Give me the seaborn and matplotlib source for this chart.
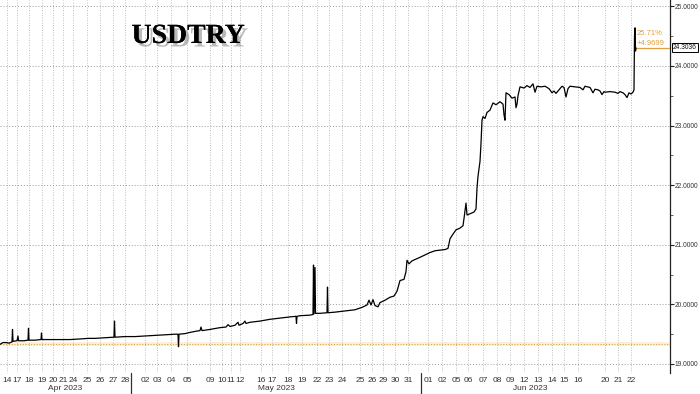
import matplotlib
matplotlib.use("Agg")
import matplotlib.pyplot as plt
import matplotlib.transforms as mtransforms
import matplotlib.patheffects as pe
import numpy as np
import pandas as pd
import seaborn as sns

# ---------------- data ----------------
# session position along the (gap-compressed) time axis, and USDTRY level
t = [0, 3, 6, 9, 12, 12.5, 13, 17, 18, 18.5, 24, 28, 28.5, 29, 35, 41, 41.5, 42,
     50, 60, 70, 80, 88, 95, 105, 114, 114.5, 115, 125, 135, 145, 155, 165, 175,
     178, 178.5, 179, 185, 190, 196, 200, 201, 202, 210, 220, 226, 228, 230, 235,
     238, 239, 243, 245, 246, 250, 260, 270, 280, 290, 296, 296.5, 297, 300, 310,
     313, 313.5, 314, 315, 315.5, 320, 327, 327.5, 328, 335, 345, 355, 362, 367,
     369, 371, 373, 375, 378, 380, 385, 390, 394, 397, 400, 404, 406, 407, 409,
     412, 416, 420, 425, 430, 435, 440, 445, 448, 450, 453, 456, 460, 463, 464,
     466, 467, 470, 474, 476, 477, 478, 480, 481, 482, 483, 485, 487, 490, 493,
     496, 500, 503, 504, 505, 506, 509, 512, 515, 516, 517, 518, 520, 524, 527,
     530, 533, 535, 537, 541, 545, 549, 552, 554, 556, 559, 562, 564, 566, 568,
     570, 575, 580, 583, 585, 590, 593, 595, 598, 600, 602, 604, 605, 610, 615,
     618, 620, 623, 625, 627, 629, 631, 633, 634, 634.5, 635, 635.5, 636]
usdtry = [19.33, 19.36, 19.36, 19.35, 19.37, 19.58, 19.38, 19.39, 19.47, 19.39,
          19.39, 19.40, 19.60, 19.40, 19.40, 19.41, 19.52, 19.41,
          19.41, 19.41, 19.41, 19.42, 19.43, 19.43, 19.44, 19.45, 19.72, 19.45,
          19.46, 19.46, 19.47, 19.48, 19.49, 19.50,
          19.50, 19.29, 19.50, 19.51, 19.53, 19.55, 19.56, 19.62, 19.56, 19.58,
          19.61, 19.62, 19.66, 19.63, 19.65,
          19.70, 19.65, 19.68, 19.72, 19.68, 19.70, 19.72, 19.75, 19.77, 19.79,
          19.80, 19.68, 19.80, 19.81, 19.82,
          19.83, 20.66, 19.84, 20.62, 19.85, 19.85, 19.86, 20.29, 19.86, 19.87,
          19.89, 19.91, 19.95, 19.99,
          20.07, 19.99, 20.08, 19.98, 19.96, 20.03, 20.07, 20.12, 20.14, 20.22,
          20.40, 20.42, 20.55, 20.74, 20.68,
          20.73, 20.76, 20.79, 20.83, 20.87, 20.90, 20.91, 20.92, 20.94, 21.10,
          21.18, 21.25, 21.28, 21.32, 21.44,
          21.70, 21.50, 21.52, 21.55, 21.60, 21.95, 22.15, 22.40, 22.70, 23.09,
          23.15, 23.12, 23.22, 23.26, 23.38,
          23.35, 23.40, 23.36, 23.18, 23.09, 23.55, 23.52, 23.46, 23.48, 23.30,
          23.36, 23.50, 23.65, 23.63, 23.67,
          23.64, 23.70, 23.56, 23.66, 23.65, 23.66, 23.62, 23.55, 23.58, 23.54,
          23.60, 23.66, 23.64, 23.48, 23.62,
          23.66, 23.65, 23.64, 23.60, 23.66, 23.64, 23.55, 23.61, 23.60, 23.58,
          23.52, 23.57, 23.56, 23.57, 23.56,
          23.54, 23.57, 23.55, 23.52, 23.47, 23.55, 23.53, 23.56, 23.60, 24.50,
          24.64, 24.25, 24.3036]

tick_pos = [7, 17, 29, 42, 53, 63, 73, 87, 100, 113, 125,
            145, 157, 171, 187, 210, 222, 231, 240, 261, 272, 288, 302, 317,
            329, 342, 360, 372, 383, 395, 408,
            428, 442, 456, 468, 483, 497, 510, 524, 538, 552, 564, 578, 605,
            618, 631]
tick_labels = ["14", "17", "18", "19", "20", "21", "24", "25", "26", "27", "28",
               "02", "03", "04", "05", "09", "10", "11", "12", "16", "17", "18",
               "19", "22", "23", "24", "25", "26", "29", "30", "31",
               "01", "02", "05", "06", "07", "08", "09", "12", "13", "14", "15",
               "16", "20", "21", "22"]
months = ["Apr 2023", "May 2023", "Jun 2023"]
month_centers = [65, 276, 530]
month_breaks = [131, 421]

y_ticks = [19, 20, 21, 22, 23, 24, 25]
start_level = 19.3337
last_level = 24.3036
pct_change = "25.71%"
abs_change = "+4.9699"

# ---------------- plotting ----------------
sns.set_theme(style="white")
plt.rcParams["font.family"] = ["Liberation Sans", "DejaVu Sans"]

fig = plt.figure(figsize=(7.0, 3.94), dpi=100)
ax = fig.add_axes([0, 1 - 373 / 394, 670 / 700, 373 / 394])

df = pd.DataFrame({"t": t, "USDTRY": usdtry})
sns.lineplot(data=df, x="t", y="USDTRY", ax=ax, color="black", lw=0.9,
             estimator=None, sort=False, zorder=5)

ax.set_xlim(0, 670)
ax.set_ylim(18.849, 25.107)
ax.set_xlabel("")
ax.set_ylabel("")

# grid
grid_c = "#a8a8a8"
for p in tick_pos:
    ax.axvline(p, color=grid_c, lw=0.6, ls=(0, (1, 2)), zorder=1)
for v in y_ticks:
    ax.axhline(v, color="#999999", lw=0.7, ls=(0, (1, 2)), zorder=1)

# baseline (start level)
ax.axhspan(start_level - 0.03, start_level + 0.03, color="#fbf1dc", lw=0, zorder=0)
ax.axhline(start_level, color="#e0a040", lw=0.8, ls=(0, (1, 1.5)), zorder=2)

# spines
for s in ["left", "top", "bottom"]:
    ax.spines[s].set_visible(False)
ax.spines["right"].set_color("#222222")
ax.spines["right"].set_linewidth(0.9)

# ticks
ax.yaxis.tick_right()
ax.set_yticks(y_ticks)
ax.set_yticklabels([f"{v:.4f}" for v in y_ticks])
ax.set_yticks([v + 0.5 for v in y_ticks[:-1]], minor=True)
ax.tick_params(axis="y", which="major", length=3, width=0.8, color="#222222",
               labelsize=4.8, labelcolor="#333333", pad=0.6, direction="out")
ax.tick_params(axis="y", which="minor", length=2, width=0.6, color="#444444")
ax.set_xticks(tick_pos)
ax.set_xticklabels(tick_labels)
ax.tick_params(axis="x", length=0, labelsize=6, labelcolor="#333333", pad=3)

# month labels and dividers
for m, c in zip(months, month_centers):
    fig.text(c / 700, 1.5 / 394, m, ha="center", va="bottom",
             fontsize=6, color="#333333")
blend = mtransforms.blended_transform_factory(ax.transData, ax.transAxes)
for b in month_breaks:
    ax.plot([b, b], [0, -0.06], transform=blend, color="#333333", lw=0.9,
            clip_on=False)

# last value annotations
orange = "#e0a040"
ax.plot([636, 670], [last_level, last_level], color=orange, lw=0.9, zorder=4)
ax.text(637, 24.54, pct_change, color=orange, fontsize=5.5, ha="left", va="center")
ax.text(637, 24.37, abs_change, color=orange, fontsize=5.5, ha="left", va="center")
blend_y = mtransforms.blended_transform_factory(ax.transAxes, ax.transData)
ax.text(1.0045, last_level, f"{last_level:.4f}", transform=blend_y, ha="left",
        va="center", fontsize=4.8, color="#111111", clip_on=False,
        bbox=dict(boxstyle="square,pad=0.15", fc="white", ec="black", lw=0.7))

# title
fig.text(188 / 700, 1 - 43 / 394, "USDTRY", ha="center", va="baseline",
         fontsize=20, fontweight="bold", family=["Liberation Serif", "DejaVu Serif"],
         color="black",
         path_effects=[pe.withSimplePatchShadow(offset=(2.5, -2.5),
                                                shadow_rgbFace="#777777",
                                                alpha=0.5), pe.Normal()])

fig.savefig("out.png", dpi=100)
